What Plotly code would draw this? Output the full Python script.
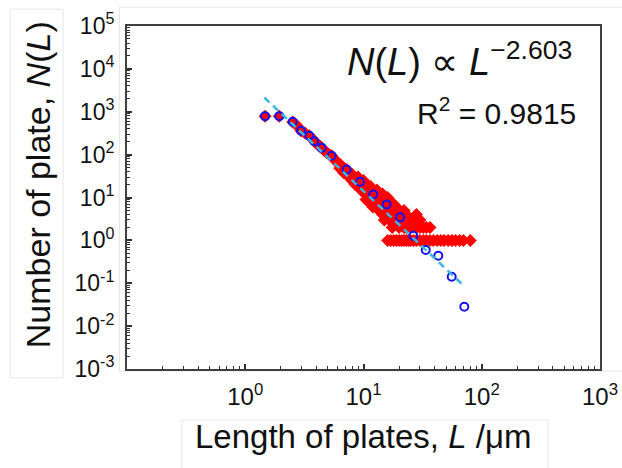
import plotly.graph_objects as go

# ---------------- data ----------------
# log-binned (blue open circles)
bin_L = [1.47, 1.94, 2.52, 2.96, 3.48, 3.84, 4.43, 5.38, 7.21, 9.34, 12.1, 15.7,
         20.4, 26.4, 33.6, 42.9, 55.7, 71.2]
bin_N = [790, 790, 582, 359, 274, 206, 144, 94, 44.7, 23.2, 11.8, 6.9,
         3.44, 1.28, 0.594, 0.437, 0.142, 0.0283]

# raw counts (red diamonds)
raw_L = [1.47, 1.94, 2.52, 2.75, 2.96, 3.2, 3.48, 3.65, 3.84, 4.05, 4.25, 4.43,
         4.65, 4.9, 5.15, 5.38, 5.6, 5.85, 6.1, 6.3, 6.4, 6.7, 6.8, 7.0, 7.21,
         7.5, 7.5, 8.0, 8.0, 8.5, 8.5, 9.0, 9.0, 9.5, 9.5, 10.0, 10.0, 10.5, 10.5,
         11.0, 11.0, 11.5, 11.5, 12.0, 12.0, 12.5, 12.5, 13.0, 13.0, 13.5, 13.5,
         14.0, 14.0, 14.5, 14.5, 15.0, 15.0, 15.5, 15.5,
         16.0, 16.0, 16.0, 16.5, 16.5, 17.0, 17.0, 17.0, 17.5, 17.5,
         18.0, 18.0, 18.0, 19.0, 19.0, 19.0, 20.0, 20.0, 20.0, 21.0, 21.0, 21.0,
         22.0, 22.0, 22.0, 23.0, 23.0, 23.0, 24.0, 24.0, 25.0, 25.0, 25.0,
         26.5, 26.5, 28.0, 28.0, 28.0, 30.0, 30.0, 30.0, 32.0, 32.0, 34.0, 34.0,
         36.5, 36.5, 39.0, 42.0, 45.0, 48.0, 52.0, 56.0, 60.0, 65.0, 70.0, 80.0]
raw_N = [790, 790, 580, 470, 360, 320, 275, 240, 205, 175, 160, 145,
         125, 110, 100, 94, 82, 70, 62, 48, 58, 50, 38, 46, 45,
         40, 30, 35, 25, 28, 20, 30, 18, 22, 15, 25, 13, 20, 9,
         16, 8, 18, 10, 14, 6, 12, 7, 15, 9, 11, 5,
         10, 6, 12, 4, 9, 3, 8, 5,
         10, 4, 1, 7, 3, 8, 5, 1, 6, 2,
         7, 4, 1, 6, 3, 1, 5, 2, 1, 4, 3, 1,
         5, 2, 1, 4, 2, 1, 3, 1, 3, 2, 1,
         3, 1, 4, 2, 1, 3, 2, 1, 2, 1, 2, 1,
         2, 1, 1, 1, 1, 1, 1, 1, 1, 1, 1, 1]

# power-law fit N = C * L^k
fit_k = -2.603
fit_C = 5650
fit_L = [1.45, 68.0]
fit_N = [fit_C * v ** fit_k for v in fit_L]

x_tickvals = [1, 10, 100, 1000]
x_ticktext = ["10<sup>0</sup>", "10<sup>1</sup>", "10<sup>2</sup>", "10<sup>3</sup>"]
y_tickvals = [1e-3, 1e-2, 1e-1, 1, 10, 100, 1e3, 1e4, 1e5]
y_ticktext = ["10<sup>-3</sup>", "10<sup>-2</sup>", "10<sup>-1</sup>", "10<sup>0</sup>",
              "10<sup>1</sup>", "10<sup>2</sup>", "10<sup>3</sup>", "10<sup>4</sup>",
              "10<sup>5</sup>"]

FONT = "Liberation Sans, Arial, sans-serif"


def minor_vals(lo, hi):
    return [m * 10 ** e for e in range(lo, hi) for m in range(2, 10)]


fig = go.Figure()
fig.add_trace(go.Scatter(x=raw_L, y=raw_N, mode="markers",
                         marker=dict(symbol="diamond", size=10, color="#ff0000",
                                     line=dict(width=0)),
                         showlegend=False))
fig.add_trace(go.Scatter(x=bin_L, y=bin_N, mode="markers",
                         marker=dict(symbol="circle-open", size=8, color="#1414f0",
                                     line=dict(width=2, color="#1414f0")),
                         showlegend=False))
fig.add_trace(go.Scatter(x=fit_L, y=fit_N, mode="lines",
                         line=dict(color="#3cb6e0", width=2.5, dash="7px,5px"),
                         showlegend=False))

axis_common = dict(type="log", showgrid=False, zeroline=False, showline=True,
                   linecolor="#404040", linewidth=2, mirror=True,
                   ticks="inside", ticklen=5, tickwidth=1.5, tickcolor="#303030")

fig.update_xaxes(range=[-1, 3], tickmode="array", tickvals=x_tickvals,
                 ticktext=x_ticktext, tickfont=dict(family=FONT, size=24, color="#111"),
                 ticklabelstandoff=5,
                 minor=dict(ticks="inside", ticklen=3, tickwidth=1.2, tickcolor="#303030",
                            tickmode="array", tickvals=minor_vals(-1, 3), showgrid=False),
                 **axis_common)
fig.update_yaxes(range=[-3, 5], tickmode="array", tickvals=y_tickvals,
                 ticktext=y_ticktext, tickfont=dict(family=FONT, size=23, color="#111"),
                 ticklabelstandoff=6,
                 minor=dict(ticks="inside", ticklen=3, tickwidth=1.2, tickcolor="#303030",
                            tickmode="array", tickvals=minor_vals(-3, 5), showgrid=False),
                 **axis_common)

# faint panel boxes (decoration)
box = dict(type="rect", xref="paper", yref="paper",
           line=dict(color="#e6e6e6", width=1), fillcolor="rgba(0,0,0,0)", layer="below")
fig.add_shape(x0=-0.247, x1=-0.135, y0=-0.026, y1=1.049, **box)
fig.add_shape(x0=-0.016, x1=1.05, y0=-0.006, y1=1.055, **box)
fig.add_shape(x0=0.116, x1=0.890, y0=-0.149, y1=-0.30, **box)

fig.add_annotation(text="Number of plate, <i>N</i>(<i>L</i>)", textangle=-90,
                   xref="paper", yref="paper", x=-0.188, y=0.536,
                   xanchor="center", yanchor="middle",
                   showarrow=False, font=dict(family=FONT, size=34, color="#111"))
fig.add_annotation(text="Length of plates, <i>L</i> /μm",
                   xref="paper", yref="paper", x=0.499, y=-0.198,
                   xanchor="center", yanchor="middle",
                   showarrow=False, font=dict(family=FONT, size=33, color="#111"))
fig.add_annotation(text="<i>N</i>(<i>L</i>) ∝ <i>L</i><sup>−2.603</sup>",
                   xref="paper", yref="paper", x=0.945, y=0.905,
                   xanchor="right", yanchor="middle",
                   showarrow=False, font=dict(family=FONT, size=38, color="#111"))
fig.add_annotation(text="R<sup>2</sup> = 0.9815",
                   xref="paper", yref="paper", x=0.953, y=0.752,
                   xanchor="right", yanchor="middle",
                   showarrow=False, font=dict(family=FONT, size=30, color="#111"))

fig.update_layout(width=622, height=468,
                  margin=dict(l=127, r=22, t=26, b=99, autoexpand=False),
                  paper_bgcolor="white", plot_bgcolor="white",
                  font=dict(family=FONT))

fig.write_html("out.html", config={"displayModeBar": False},
               post_script="document.body.style.margin='0px';document.body.style.padding='0px';")
